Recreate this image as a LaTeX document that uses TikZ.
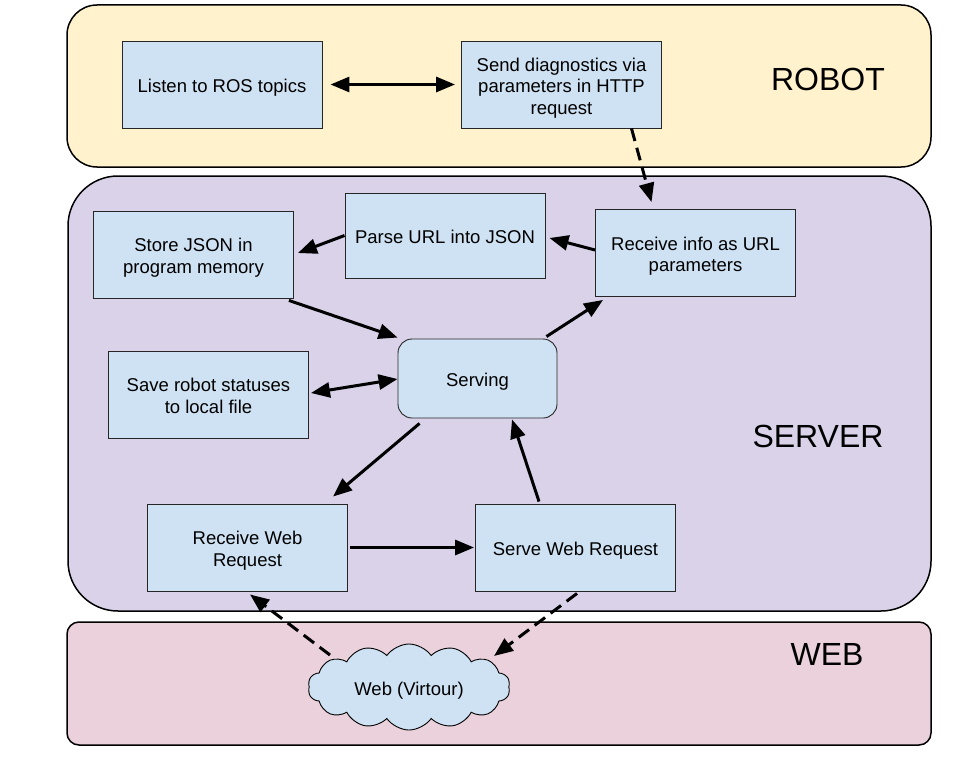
\documentclass[tikz,border=0pt]{standalone}
\usepackage{fontspec}
\setmainfont{Liberation Sans}
\usetikzlibrary{shapes.symbols,arrows.meta,calc}
\definecolor{robotbg}{HTML}{FFF2CC}
\definecolor{serverbg}{HTML}{D9D2E9}
\definecolor{webbg}{HTML}{EAD1DC}
\definecolor{boxblue}{HTML}{CFE2F3}
\newcommand{\boxtext}[1]{\raisebox{-3.8pt}[\height][\depth]{\begin{tabular}{@{}c@{}}#1\end{tabular}}}
\begin{document}
\begin{tikzpicture}[x=1pt,y=-1pt,
  band/.style={draw=black,line width=1.5pt},
  procbox/.style={draw=black!85,line width=0.9pt,fill=boxblue,minimum width=200pt,minimum height=87pt,inner sep=0pt,font=\fontsize{18.5}{21.5}\selectfont},
  bandlabel/.style={font=\fontsize{32}{36}\selectfont},
  conn/.style={line width=3pt,-{Triangle[length=19pt,width=15pt]}},
  biconn/.style={line width=3pt,{Triangle[length=19pt,width=15pt]}-{Triangle[length=19pt,width=15pt]}},
  dconn/.style={conn,dash pattern=on 13pt off 7pt}
]
\useasboundingbox (0,0) rectangle (957,765);
\fill[white] (0,0) rectangle (957,765);
% bands
\draw[band,fill=robotbg,rounded corners=30pt] (67,5) rectangle (931,167);
\draw[band,fill=serverbg,rounded corners=50pt] (68,176) rectangle (931,611);
\draw[band,fill=webbg,rounded corners=12pt] (67,622) rectangle (931,745);
\node[bandlabel] (lrobot) at (828,79) {ROBOT};
\node[bandlabel] (lserver) at (818,436) {SERVER};
\node[bandlabel] (lweb) at (827,654) {WEB};
% nodes
\node[procbox] (listen) at (222,84.5) {\boxtext{Listen to ROS topics}};
\node[procbox] (send) at (561.5,84.5) {\boxtext{Send diagnostics via\\parameters in HTTP\\request}};
\node[procbox,minimum height=85pt] (parse) at (445,235.5) {\boxtext{Parse URL into JSON}};
\node[procbox] (store) at (193.5,254.5) {\boxtext{Store JSON in\\program memory}};
\node[procbox] (recv) at (695.5,253) {\boxtext{Receive info as URL\\parameters}};
\node[procbox,minimum width=159pt,minimum height=79pt,rounded corners=14pt] (serving) at (477.5,378.5) {\boxtext{Serving}};
\node[procbox] (save) at (208.5,394.5) {\boxtext{Save robot statuses\\to local file}};
\node[procbox] (rweb) at (247.5,547.5) {\boxtext{Receive Web\\Request}};
\node[procbox] (sweb) at (575.5,547.5) {\boxtext{Serve Web Request}};
\node[cloud,draw=black,line width=0.9pt,fill=boxblue,cloud puffs=14,cloud puff arc=110,aspect=2.3,minimum width=202pt,minimum height=86pt,inner sep=0pt,font=\fontsize{18.5}{21.5}\selectfont] (cloud) at (409,687) {\boxtext{Web (Virtour)}};
% connectors
\draw[biconn,shorten <=8pt,shorten >=6pt] (listen.east) -- (send.west);
\draw[dconn] ($(send.south)+(70,0)$) -- ($(recv.north)+(-44,-7)$);
\draw[conn] ($(recv.west)+(0,-3)$) -- ($(parse.east)+(4,2.5)$);
\draw[conn] (parse.west) -- ($(store.east)+(4,-1.5)$);
\draw[conn] ($(store.south east)+(-5,2)$) -- ($(serving.north west)+(0,-1)$);
\draw[conn] ($(serving.north east)+(-11,-2)$) -- ($(recv.south west)+(8,3)$);
\draw[biconn] ($(save.east)+(2,-1.5)$) -- ($(serving.west)+(0,0.5)$);
\draw[conn] ($(serving.south west)+(22,5)$) -- ($(rweb.north)+(85.5,-7)$);
\draw[conn] ($(rweb.east)+(2,0)$) -- ($(sweb.west)+(-1,0)$);
\draw[conn] ($(sweb.north)+(-36.5,-2)$) -- ($(serving.south)+(34.5,1)$);
\draw[dconn] ($(cloud.center)+(-79,-32)$) -- ($(rweb.south)+(2.5,3)$);
\draw[dconn] ($(sweb.south)+(1.5,2)$) -- ($(cloud.center)+(85,-31)$);
\end{tikzpicture}
\end{document}
